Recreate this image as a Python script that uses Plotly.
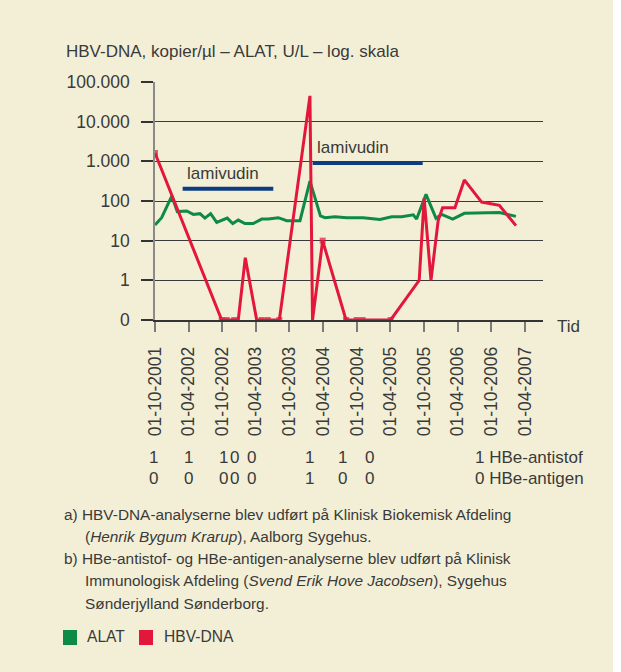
import math
import plotly.graph_objects as go

# ---------------- data ----------------
hbv_dates = ["2001-10-01", "2002-09-28", "2002-10-25", "2002-12-05", "2002-12-27",
             "2003-02-03", "2003-04-06", "2003-05-03", "2003-06-05", "2003-08-07",
             "2004-01-20", "2004-02-03", "2004-03-29", "2004-08-03", "2004-09-30",
             "2004-11-01", "2005-04-02", "2005-09-04", "2005-10-01", "2005-11-07",
             "2005-12-16", "2006-01-09", "2006-03-17", "2006-05-07", "2006-08-09",
             "2006-11-13", "2007-02-11"]
hbv_values = [1620, 0, 0, 0, 0, 3.7, 0, 0, 0, 0, 44700, 0, 10, 0, 0, 0, 0,
              1, 117, 1, 32, 68, 68, 340, 94, 78, 24]

alat_dates = ["2001-10-01", "2001-11-06", "2001-12-31", "2002-01-30", "2002-03-22",
              "2002-04-27", "2002-06-02", "2002-06-29", "2002-07-30", "2002-09-01",
              "2002-10-28", "2002-11-27", "2002-12-27", "2003-02-01", "2003-03-18",
              "2003-05-03", "2003-06-08", "2003-08-01", "2003-09-16", "2003-11-27",
              "2004-01-20", "2004-03-17", "2004-04-11", "2004-06-04", "2004-08-06",
              "2004-11-04", "2005-02-03", "2005-04-08", "2005-06-01", "2005-08-03",
              "2005-08-21", "2005-10-11", "2005-12-04", "2006-01-04", "2006-03-05",
              "2006-05-07", "2006-11-13", "2007-02-11"]
alat_values = [25, 38, 133, 54, 56, 46, 48, 37, 48, 29, 37, 27, 33, 27, 27, 35, 35,
               38, 32, 32, 316, 42, 38, 40, 38, 38, 34, 40, 40, 45, 35, 147, 37, 46,
               35, 49, 51, 41]

lam_start = ["2002-02-28", "2004-02-04"]
lam_end = ["2003-07-05", "2005-09-23"]
lam_level = [204, 910]
lam_label = ["lamivudin", "lamivudin"]

hbe_dates = ["2001-10-01", "2002-03-31", "2002-10-10", "2002-12-04", "2003-03-10",
             "2004-01-20", "2004-07-16", "2004-12-08"]
hbe_antistof = [1, 1, 1, 0, 0, 1, 1, 0]
hbe_antigen = [0, 0, 0, 0, 0, 1, 0, 0]
hbe_last_antistof = 1
hbe_last_antigen = 0

y_tickvals = [0.1, 1, 10, 100, 1000, 10000, 100000]
y_ticktext = ["0", "1", "10", "100", "1.000", "10.000", "100.000"]

title_text = "HBV-DNA, kopier/µl – ALAT, U/L – log. skala"
notes = [
    "a) HBV-DNA-analyserne blev udført på Klinisk Biokemisk Afdeling",
    "(<i>Henrik Bygum Krarup</i>), Aalborg Sygehus.",
    "b) HBe-antistof- og HBe-antigen-analyserne blev udført på Klinisk",
    "Immunologisk Afdeling (<i>Svend Erik Hove Jacobsen</i>), Sygehus",
    "Sønderjylland Sønderborg.",
]

# ---------------- styling / layout helpers ----------------
W, H = 621, 672
L, R, T, B = 155, 78, 82, 352
PW, PH = W - L - R, H - T - B
FONT = "Liberation Sans"
TXT = "#3a3a3a"
RED = "#e3173c"
GREEN = "#0e8a47"
BLUE = "#0d3c80"
BG = "#f3efd6"


def xp(px):
    return (px - L) / PW


def yp(py):
    return (H - B - py) / PH


hbv_plot = [v if v > 0 else 0.1 for v in hbv_values]
marked = {0, 1, 2, 3, 7, 8, 9, 12, 13, 14, 15, 16}
hbv_msize = [6 if i in marked else 0 for i in range(len(hbv_values))]

fig = go.Figure()

fig.add_trace(go.Scatter(x=alat_dates, y=alat_values, mode="lines",
                         line=dict(color=GREEN, width=3), name="ALAT",
                         showlegend=False))
fig.add_trace(go.Scatter(x=hbv_dates, y=hbv_plot, mode="lines+markers",
                         line=dict(color=RED, width=3),
                         marker=dict(symbol="square", size=hbv_msize, color=RED,
                                     line=dict(width=0)),
                         name="HBV-DNA", showlegend=False))
for s, e, lv in zip(lam_start, lam_end, lam_level):
    fig.add_trace(go.Scatter(x=[s, e], y=[lv, lv], mode="lines",
                             line=dict(color=BLUE, width=4), showlegend=False,
                             hoverinfo="skip"))

ann = []
for s, e, lv, lab in zip(lam_start, lam_end, lam_level, lam_label):
    ann.append(dict(x=s, y=math.log10(lv), xref="x", yref="y", text=lab,
                    showarrow=False, xanchor="left", yanchor="bottom", yshift=4,
                    xshift=2, font=dict(size=17, color=TXT, family=FONT)))

# title
ann.append(dict(x=xp(64), y=yp(51), xref="paper", yref="paper", text=title_text,
                showarrow=False, xanchor="left", yanchor="middle",
                font=dict(size=17, color=TXT, family=FONT)))
# Tid
ann.append(dict(x=xp(555), y=yp(326), xref="paper", yref="paper", text="Tid",
                showarrow=False, xanchor="left", yanchor="middle",
                font=dict(size=17, color=TXT, family=FONT)))
# HBe rows
for i, (d, a, g) in enumerate(zip(hbe_dates, hbe_antistof, hbe_antigen)):
    shift = -2 if i == 0 else 0
    ann.append(dict(x=d, y=yp(457), xref="x", yref="paper", text=str(a),
                    showarrow=False, xanchor="center", yanchor="middle",
                    xshift=shift, font=dict(size=17, color=TXT, family=FONT)))
    ann.append(dict(x=d, y=yp(479), xref="x", yref="paper", text=str(g),
                    showarrow=False, xanchor="center", yanchor="middle",
                    xshift=shift, font=dict(size=17, color=TXT, family=FONT)))
ann.append(dict(x=xp(473), y=yp(457), xref="paper", yref="paper",
                text=f"{hbe_last_antistof} HBe-antistof", showarrow=False,
                xanchor="left", yanchor="middle",
                font=dict(size=17, color=TXT, family=FONT)))
ann.append(dict(x=xp(473), y=yp(479), xref="paper", yref="paper",
                text=f"{hbe_last_antigen} HBe-antigen", showarrow=False,
                xanchor="left", yanchor="middle",
                font=dict(size=17, color=TXT, family=FONT)))
# footnotes
note_x = [62, 83, 62, 83, 83]
note_y = [514, 536, 558, 580, 603]
for t, nx, ny in zip(notes, note_x, note_y):
    ann.append(dict(x=xp(nx), y=yp(ny), xref="paper", yref="paper", text=t,
                    showarrow=False, xanchor="left", yanchor="middle",
                    font=dict(size=15.4, color=TXT, family=FONT)))
# legend
ann.append(dict(x=xp(85), y=yp(637), xref="paper", yref="paper", text="ALAT",
                showarrow=False, xanchor="left", yanchor="middle",
                font=dict(size=15.6, color=TXT, family=FONT)))
ann.append(dict(x=xp(162), y=yp(637), xref="paper", yref="paper", text="HBV-DNA",
                showarrow=False, xanchor="left", yanchor="middle",
                font=dict(size=15.6, color=TXT, family=FONT)))

shapes = [
    # cream panel (the page itself is white at the far right edge)
    dict(type="rect", xref="paper", yref="paper", x0=xp(0), x1=xp(613),
         y0=yp(H), y1=yp(0), fillcolor=BG, line=dict(width=0), layer="below"),
    dict(type="rect", xref="paper", yref="paper", x0=xp(63), x1=xp(77),
         y0=yp(645), y1=yp(630), fillcolor=GREEN, line=dict(width=0)),
    dict(type="rect", xref="paper", yref="paper", x0=xp(139), x1=xp(153),
         y0=yp(645), y1=yp(630), fillcolor=RED, line=dict(width=0)),
]

fig.update_layout(
    width=W, height=H,
    margin=dict(l=L, r=R, t=T, b=B, pad=0),
    paper_bgcolor="#ffffff", plot_bgcolor="rgba(0,0,0,0)",
    font=dict(family=FONT, color=TXT, size=17),
    annotations=ann, shapes=shapes,
    showlegend=False,
    xaxis=dict(type="date", range=["2001-10-01", "2007-07-08"],
               tick0="2001-10-01", dtick="M6", tickformat="%d-%m-%Y",
               tickangle=-90, ticks="outside", ticklen=10, tickcolor="#7a7a7a",
               tickwidth=1.5, showgrid=False, showline=True, linecolor="#333333",
               linewidth=1.5, zeroline=False, ticklabelstandoff=8,
               tickfont=dict(size=17.5, color=TXT, family=FONT)),
    yaxis=dict(type="log", range=[-1, 5], tickvals=y_tickvals,
               ticktext=y_ticktext, ticks="outside", ticklen=12,
               tickcolor="#333333", tickwidth=1.5, showgrid=True,
               gridcolor="#3a3a3a", gridwidth=1, showline=True,
               linecolor="#8a8a8a", linewidth=1.5, zeroline=False,
               ticklabelstandoff=8,
               tickfont=dict(size=17.5, color=TXT, family=FONT)),
)

fig.write_html("out.html", config={"displayModeBar": False},
               post_script="document.body.style.margin='0';"
                           "document.body.style.overflow='hidden';")
